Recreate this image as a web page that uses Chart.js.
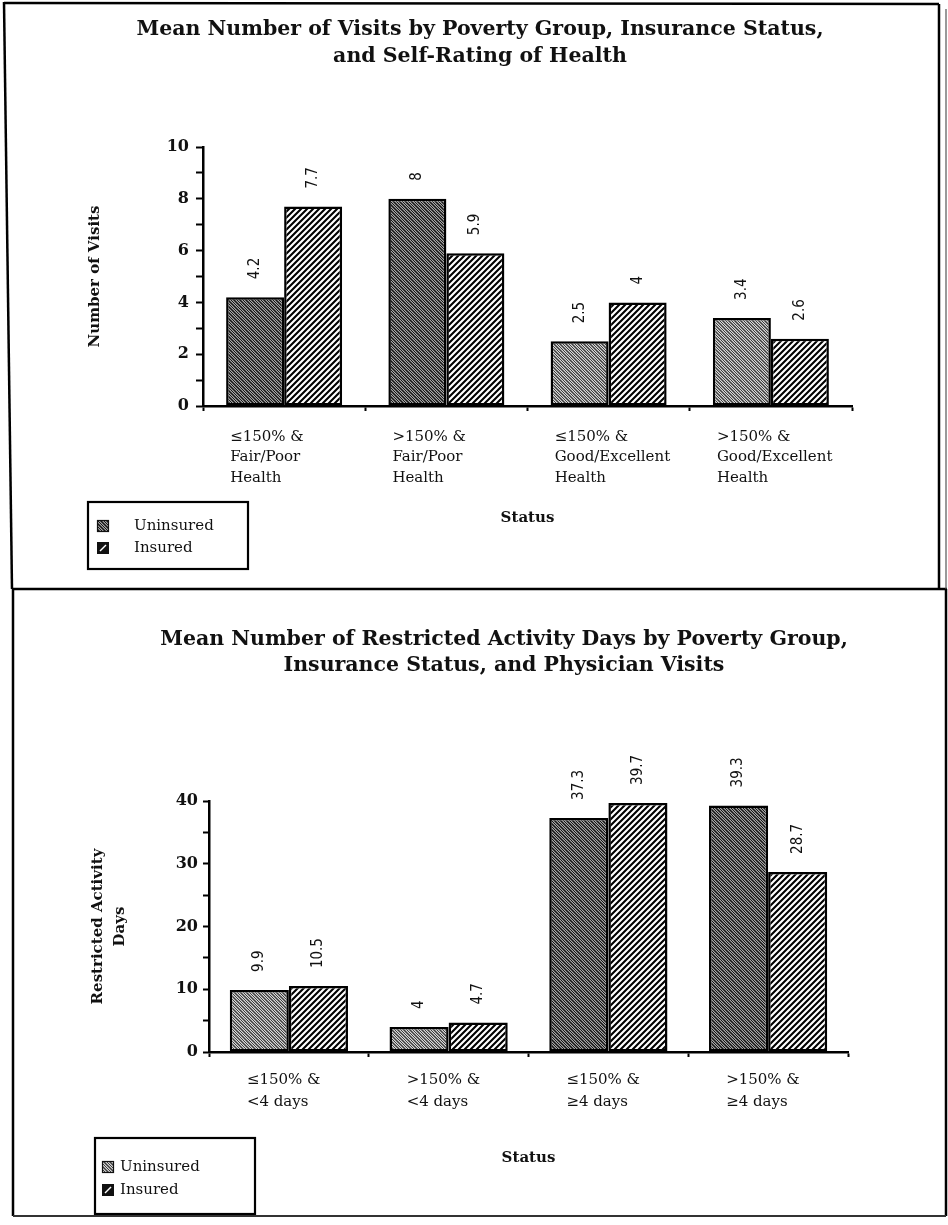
<!DOCTYPE html>
<html>
<head>
<meta charset="utf-8">
<script src="https://cdn.jsdelivr.net/npm/chart.js@4.4.1/dist/chart.umd.min.js"></script>
<style>
  html, body { margin: 0; padding: 0; background: #fff; }
  #page { position: relative; width: 948px; height: 1225px; overflow: hidden; background: #fff; }
  #page canvas { position: absolute; left: 0; }
  #visits { top: 0; }
  #restricted { top: 590px; }
  #frame { position: absolute; left: 0; top: 0; pointer-events: none; }
</style>
</head>
<body>
<div id="page">
  <canvas id="visits" width="948" height="590"></canvas>
  <canvas id="restricted" width="948" height="635"></canvas>
  <svg id="frame" width="948" height="1225">
    <g stroke="#000" stroke-width="2.5" fill="none">
      <line x1="4" y1="2" x2="12" y2="589"/>
      <line x1="4" y1="3" x2="939" y2="4"/>
      <line x1="939" y1="4" x2="939" y2="589"/>
      <line x1="12" y1="589" x2="947" y2="589"/>
      <line x1="13" y1="589" x2="13" y2="1216"/>
      <line x1="946" y1="589" x2="946" y2="1216"/>
    </g>
    <line x1="946" y1="9" x2="946" y2="589" stroke="#555" stroke-width="1.2"/>
    <line x1="13" y1="1216" x2="946" y2="1216" stroke="#333" stroke-width="2"/>
  </svg>
</div>
<script>
// ---- Chart 1: mean number of visits ----
const visitCategories = [
  ['≤150% &', 'Fair/Poor', 'Health'],
  ['>150% &', 'Fair/Poor', 'Health'],
  ['≤150% &', 'Good/Excellent', 'Health'],
  ['>150% &', 'Good/Excellent', 'Health']
];
const visitsUninsured = [4.2, 8, 2.5, 3.4];
const visitsInsured = [7.7, 5.9, 4, 2.6];
const visitTickLabels = [0, 2, 4, 6, 8, 10];

// ---- Chart 2: mean number of restricted activity days ----
const daysCategories = [
  ['≤150% &', '<4 days'],
  ['>150% &', '<4 days'],
  ['≤150% &', '≥4 days'],
  ['>150% &', '≥4 days']
];
const daysUninsured = [9.9, 4, 37.3, 39.3];
const daysInsured = [10.5, 4.7, 39.7, 28.7];
const daysTickLabels = [0, 10, 20, 30, 40];

const seriesNames = ['Uninsured', 'Insured'];

// ---- fill patterns ----
function tile(w, h, paint) {
  const c = document.createElement('canvas');
  c.width = w; c.height = h;
  const g = c.getContext('2d');
  paint(g, w, h);
  return g.createPattern(c, 'repeat');
}

// fine grey stipple with a "\" grain
function stipple(dark) {
  return tile(6, 6, (g, w, h) => {
    const img = g.createImageData(w, h);
    for (let y = 0; y < h; y++) {
      for (let x = 0; x < w; x++) {
        let v;
        if ((x - y + 6) % 3 === 0) v = dark ? 20 : 60;
        else if ((x + y) % 2 === 0) v = dark ? 165 : 215;
        else v = dark ? 85 : 135;
        const k = (y * w + x) * 4;
        img.data[k] = img.data[k + 1] = img.data[k + 2] = v;
        img.data[k + 3] = 255;
      }
    }
    g.putImageData(img, 0, 0);
  });
}

// black "/" hatch on white
const hatch = tile(6, 6, (g, w, h) => {
  g.fillStyle = '#fff';
  g.fillRect(0, 0, w, h);
  g.strokeStyle = '#000';
  g.lineWidth = 2.1;
  g.beginPath();
  for (const o of [-w, 0, w]) {
    g.moveTo(o - 1, h + 1);
    g.lineTo(o + w + 1, -1);
  }
  g.stroke();
});

const stippleDark = stipple(true);
const stippleLight = stipple(false);

// ---- plugins ----
// two-line chart heading, centred on the page panel
const headline = {
  id: 'headline',
  afterDraw(chart, args, o) {
    const ctx = chart.ctx;
    ctx.save();
    ctx.font = o.font;
    ctx.fillStyle = '#111';
    ctx.textAlign = 'center';
    ctx.textBaseline = 'middle';
    o.lines.forEach((t, i) => ctx.fillText(t, o.x, o.y + i * o.gap));
    ctx.restore();
  }
};

// rotated value above every bar
const valueLabels = {
  id: 'valueLabels',
  afterDatasetsDraw(chart, args, opts) {
    const ctx = chart.ctx;
    ctx.save();
    ctx.font = opts.font;
    ctx.fillStyle = '#111';
    ctx.textAlign = 'left';
    ctx.textBaseline = 'middle';
    chart.data.datasets.forEach((ds, di) => {
      chart.getDatasetMeta(di).data.forEach((bar, i) => {
        ctx.save();
        ctx.translate(bar.x, bar.y - opts.gap);
        ctx.rotate(-Math.PI / 2);
        ctx.fillText(String(ds.data[i]), 0, 0);
        ctx.restore();
      });
    });
    ctx.restore();
  }
};

// boxed key in the lower-left corner
const boxLegend = {
  id: 'boxLegend',
  afterDraw(chart, args, o) {
    const ctx = chart.ctx;
    ctx.save();
    ctx.strokeStyle = '#000';
    ctx.lineWidth = 2.2;
    ctx.strokeRect(o.x, o.y, o.w, o.h);
    ctx.font = o.font;
    ctx.textBaseline = 'middle';
    ctx.textAlign = 'left';
    chart.data.datasets.forEach((ds, i) => {
      const cy = o.y + o.firstRow + i * o.rowGap;
      const sx = o.x + o.swatchX, sy = cy - 6;
      if (ds.swatch === 'solid') {
        ctx.fillStyle = '#111';
        ctx.fillRect(sx, sy, 12, 12);
        ctx.strokeStyle = '#fff';
        ctx.lineWidth = 1.4;
        ctx.beginPath();
        ctx.moveTo(sx + 3, sy + 9);
        ctx.lineTo(sx + 9, sy + 3);
        ctx.stroke();
      } else {
        ctx.fillStyle = ds.swatch;
        ctx.fillRect(sx, sy, 12, 12);
        ctx.strokeStyle = '#111';
        ctx.lineWidth = 1.2;
        ctx.strokeRect(sx + 0.5, sy + 0.5, 11, 11);
      }
      ctx.fillStyle = '#111';
      ctx.fillText(ds.label, o.x + o.textX, cy);
    });
    ctx.restore();
  }
};

const SERIF = '"DejaVu Serif", "Liberation Serif", serif';
const LABEL_FONT = '15px "Liberation Sans Narrow", "DejaVu Sans Condensed", "Liberation Sans", sans-serif';
const HEAD_FONT = 'bold 20.5px ' + SERIF;

function makeChart(id, cfg) {
  return new Chart(document.getElementById(id), {
    type: 'bar',
    data: {
      labels: cfg.categories,
      datasets: [
        {
          label: seriesNames[0],
          data: cfg.uninsured,
          backgroundColor: cfg.uninsuredFills,
          swatch: cfg.uninsuredFills[0],
          borderColor: '#000',
          borderWidth: 2.5,
          borderSkipped: false
        },
        {
          label: seriesNames[1],
          data: cfg.insured,
          backgroundColor: hatch,
          swatch: 'solid',
          borderColor: '#000',
          borderWidth: 2.5,
          borderSkipped: false
        }
      ]
    },
    plugins: [headline, valueLabels, boxLegend],
    options: {
      responsive: false,
      animation: false,
      devicePixelRatio: 1,
      layout: { padding: cfg.padding },
      datasets: { bar: { categoryPercentage: cfg.catPct, barPercentage: 1 } },
      plugins: {
        legend: { display: false },
        tooltip: { enabled: false },
        title: { display: false },
        headline: cfg.heading,
        valueLabels: { font: LABEL_FONT, gap: 18 },
        boxLegend: cfg.legend
      },
      scales: {
        x: {
          offset: true,
          border: { display: true, color: '#000', width: 2.5 },
          grid: {
            offset: true,
            drawOnChartArea: false,
            drawTicks: true,
            tickLength: 5,
            tickWidth: 2,
            tickColor: '#000'
          },
          ticks: {
            color: '#111',
            align: 'start',
            labelOffset: cfg.labelOffset,
            padding: cfg.xTickPadding,
            maxRotation: 0,
            autoSkip: false,
            font: { family: SERIF, size: 15, lineHeight: cfg.xLineHeight }
          },
          title: {
            display: true,
            text: 'Status',
            color: '#111',
            font: { family: SERIF, weight: 'bold', size: 15, lineHeight: 1.2 },
            padding: { top: 0, bottom: cfg.statusPad }
          },
          afterFit(s) { s.height = cfg.xHeight; }
        },
        y: {
          min: 0,
          max: cfg.yMax,
          border: { display: true, color: '#000', width: 2.5 },
          grid: {
            drawOnChartArea: false,
            drawTicks: true,
            tickLength: cfg.yTickLen,
            tickWidth: 2,
            tickColor: '#000'
          },
          ticks: {
            stepSize: cfg.yStep,
            color: '#111',
            padding: cfg.yTickPadding,
            font: { family: SERIF, weight: 'bold', size: 16 },
            callback: (v) => (cfg.tickLabels.includes(v) ? String(v) : '')
          },
          title: {
            display: true,
            text: cfg.yTitle,
            color: '#111',
            font: { family: SERIF, weight: 'bold', size: 15, lineHeight: cfg.yTitleLH },
            padding: { top: cfg.yTitlePad, bottom: 0 }
          },
          afterFit(s) { s.width = cfg.yWidth; }
        }
      }
    }
  });
}

makeChart('visits', {
  categories: visitCategories,
  uninsured: visitsUninsured,
  insured: visitsInsured,
  uninsuredFills: [stippleDark, stippleDark, stippleLight, stippleLight],
  heading: { lines: ['Mean Number of Visits by Poverty Group, Insurance Status,', 'and Self-Rating of Health'],
             x: 480, y: 30, gap: 27, font: HEAD_FONT },
  padding: { left: 0, right: 96, top: 147, bottom: 54 },
  catPct: 0.715,
  labelOffset: -54,
  xTickPadding: 16,
  xLineHeight: 1.36,
  xHeight: 130,
  statusPad: 9,
  yMax: 10,
  yStep: 1,
  yTickLen: 7,
  yTickPadding: 7,
  tickLabels: visitTickLabels,
  yTitle: 'Number of Visits',
  yTitleLH: 1.2,
  yTitlePad: 86,
  yWidth: 203,
  legend: { x: 88, y: 502, w: 160, h: 67, firstRow: 24, rowGap: 22, swatchX: 9, textX: 46,
            font: '15px ' + SERIF }
});

makeChart('restricted', {
  categories: daysCategories,
  uninsured: daysUninsured,
  insured: daysInsured,
  uninsuredFills: [stippleLight, stippleLight, stippleDark, stippleDark],
  heading: { lines: ['Mean Number of Restricted Activity Days by Poverty Group,', 'Insurance Status, and Physician Visits'],
             x: 504, y: 50, gap: 26, font: HEAD_FONT },
  padding: { left: 0, right: 100, top: 211, bottom: 53 },
  catPct: 0.74,
  labelOffset: -42,
  xTickPadding: 12,
  xLineHeight: 1.45,
  xHeight: 120,
  statusPad: 5,
  yMax: 40,
  yStep: 5,
  yTickLen: 6,
  yTickPadding: 5,
  tickLabels: daysTickLabels,
  yTitle: ['Restricted Activity', 'Days'],
  yTitleLH: 1.45,
  yTitlePad: 87,
  yWidth: 209,
  legend: { x: 95, y: 548, w: 160, h: 76, firstRow: 29, rowGap: 23, swatchX: 7, textX: 25,
            font: '15px ' + SERIF }
});
</script>
</body>
</html>
